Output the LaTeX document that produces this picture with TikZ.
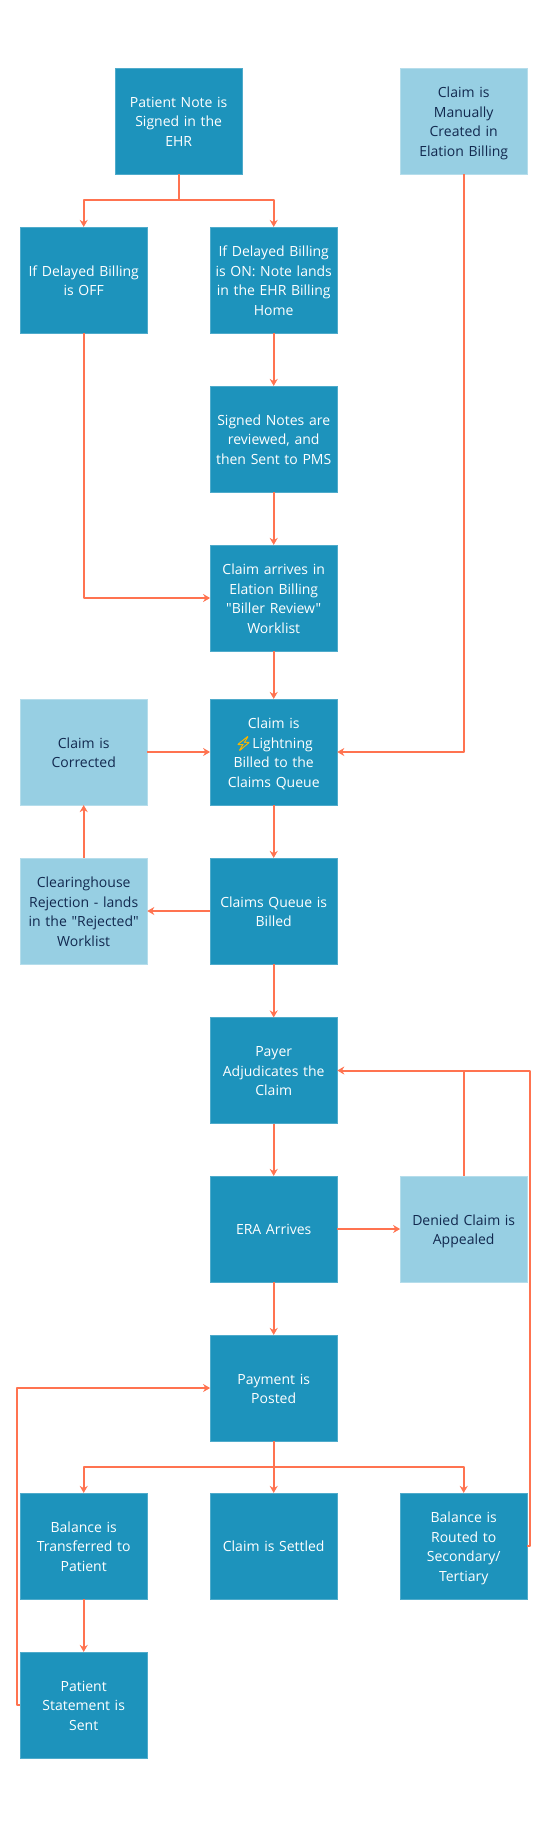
\documentclass[tikz,border=0pt]{standalone}
\usepackage{fontspec}
\setmainfont{Open Sans}[Ligatures=TeXOff]
\newfontfamily\emojifont{Noto Emoji}[FakeBold=2]
\usetikzlibrary{arrows.meta}
\definecolor{stepdark}{HTML}{1D93BC}
\definecolor{steplight}{HTML}{97CFE3}
\definecolor{edgedark}{HTML}{4FABCB}
\definecolor{edgelight}{HTML}{B5DDEB}
\definecolor{ink}{HTML}{12294F}
\definecolor{flow}{HTML}{FF7350}
\definecolor{bolt}{HTML}{F7B500}
\newcommand{\boltmark}{{\emojifont\textcolor{bolt}{⚡}}}
\tikzset{
  stepbox/.style={rectangle,minimum width=126.7,minimum height=105.7,inner sep=0pt,
    text width=126.7pt,align=center,font=\fontsize{14}{19.5}\selectfont,
    execute at begin node={\rule{0pt}{17.8pt}},execute at end node=\strut},
  mainbox/.style={stepbox,fill=stepdark,draw=edgedark,line width=0.5pt,text=white},
  sidebox/.style={stepbox,fill=steplight,draw=edgelight,line width=0.5pt,text=ink},
  flowline/.style={draw=flow,line width=2pt,line join=round},
  flowarrow/.style={flowline,-{Stealth[length=7pt,width=8pt]}}
}

\begin{document}
\begin{tikzpicture}[x=1pt,y=1pt]
  \useasboundingbox (0,0) rectangle (547,-1826);
  \fill[white] (0,0) rectangle (547,-1826);

  \node[mainbox] (note) at (178.7,-121) {Patient Note is\\Signed in the\\EHR};
  \node[sidebox] (manual) at (463.7,-121) {Claim is\\Manually\\Created in\\Elation Billing};
  \node[mainbox] (off) at (83.7,-280) {If Delayed Billing\\is OFF};
  \node[mainbox] (on) at (273.7,-280) {If Delayed Billing\\is ON: Note lands\\in the EHR Billing\\Home};
  \node[mainbox] (reviewed) at (273.7,-439) {Signed Notes are\\reviewed, and\\then Sent to PMS};
  \node[mainbox] (arrives) at (273.7,-598) {Claim arrives in\\Elation Billing\\"Biller Review"\\Worklist};
  \node[sidebox] (corrected) at (83.7,-752) {Claim is\\Corrected};
  \node[mainbox] (lightning) at (273.7,-752) {Claim is\\\boltmark Lightning\\Billed to the\\Claims Queue};
  \node[sidebox] (rejection) at (83.7,-911) {Clearinghouse\\Rejection - lands\\in the "Rejected"\\Worklist};
  \node[mainbox] (billed) at (273.7,-911) {Claims Queue is\\Billed};
  \node[mainbox] (payer) at (273.7,-1070.5) {Payer\\Adjudicates the\\Claim};
  \node[mainbox] (era) at (273.7,-1229) {ERA Arrives};
  \node[sidebox] (denied) at (463.7,-1229) {Denied Claim is\\Appealed};
  \node[mainbox] (payment) at (273.7,-1388) {Payment is\\Posted};
  \node[mainbox] (transfer) at (83.7,-1546) {Balance is\\Transferred to\\Patient};
  \node[mainbox] (settled) at (273.7,-1546) {Claim is Settled};
  \node[mainbox] (routed) at (463.7,-1546) {Balance is\\Routed to\\Secondary/\\Tertiary};
  \node[mainbox] (statement) at (83.7,-1705) {Patient\\Statement is\\Sent};

  \coordinate (notefork) at (178.7,-200);
  \coordinate (payfork) at (273.7,-1467);
  \coordinate (routedturn) at (530,-1546);
  \coordinate (payerturn) at (530,-1070.5);
  \coordinate (appealturn) at (463.7,-1070.5);
  \coordinate (statementturn) at (17,-1705);
  \coordinate (paymentturn) at (17,-1388);

  \draw[flowline] (note.south) -- (notefork);
  \draw[flowarrow] (notefork) -| (off.north);
  \draw[flowarrow] (notefork) -| (on.north);
  \draw[flowarrow] (on) -- (reviewed);
  \draw[flowarrow] (reviewed) -- (arrives);
  \draw[flowarrow] (off.south) |- (arrives.west);
  \draw[flowarrow] (arrives) -- (lightning);
  \draw[flowarrow] (manual.south) |- (lightning.east);
  \draw[flowarrow] (corrected) -- (lightning);
  \draw[flowarrow] (lightning) -- (billed);
  \draw[flowarrow] (billed) -- (rejection);
  \draw[flowarrow] (rejection) -- (corrected);
  \draw[flowarrow] (billed) -- (payer);
  \draw[flowarrow] (payer) -- (era);
  \draw[flowarrow] (era) -- (denied);
  \draw[flowline] (denied.north) -- (appealturn);
  \draw[flowarrow] (era) -- (payment);
  \draw[flowline] (payment.south) -- (payfork);
  \draw[flowarrow] (payfork) -| (transfer.north);
  \draw[flowarrow] (payfork) -- (settled);
  \draw[flowarrow] (payfork) -| (routed.north);
  \draw[flowarrow] (routed.east) -- (routedturn) -- (payerturn) -- (payer.east);
  \draw[flowarrow] (transfer) -- (statement);
  \draw[flowarrow] (statement.west) -- (statementturn) -- (paymentturn) -- (payment.west);
\end{tikzpicture}
\end{document}
